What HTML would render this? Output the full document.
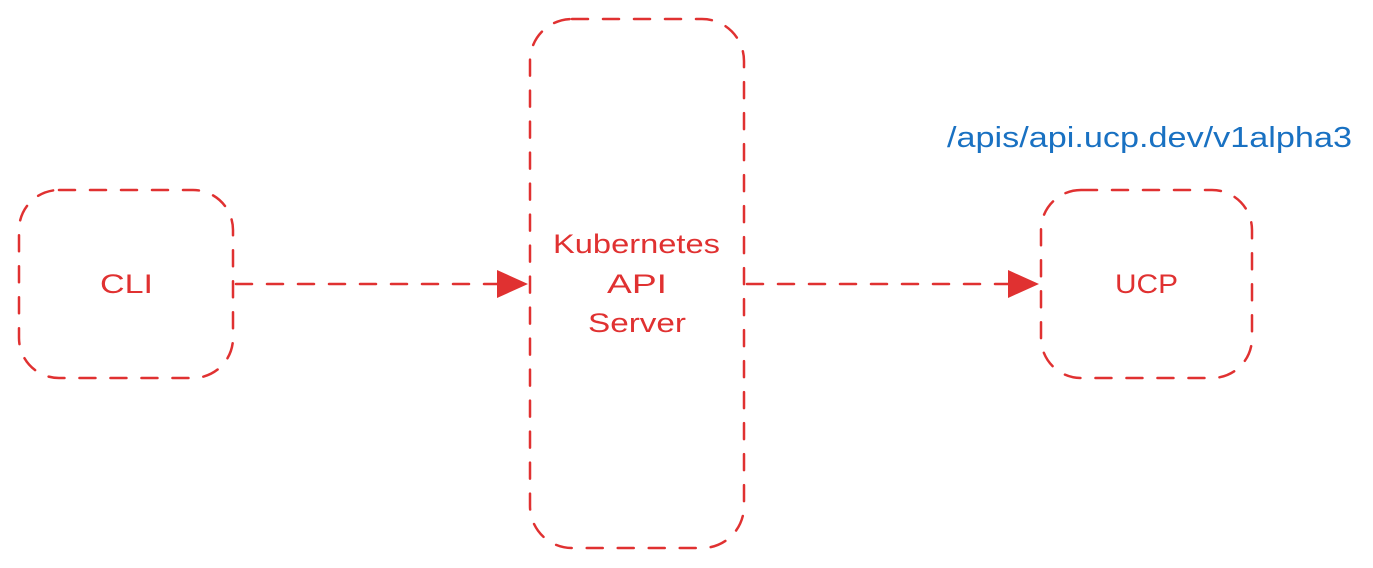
<!DOCTYPE html>
<html><head><style>
html,body{margin:0;padding:0;background:#fff;width:1373px;height:568px;overflow:hidden}
</style></head><body>
<svg width="1373" height="568" viewBox="0 0 1373 568" xmlns="http://www.w3.org/2000/svg">
<g fill="none" stroke="#e03131" stroke-width="2.5" stroke-dasharray="16 15" stroke-linecap="round">
<rect x="19" y="190" width="214" height="188" rx="40"/>
<rect x="530" y="19" width="214" height="529" rx="42"/>
<rect x="1041" y="190" width="211" height="188" rx="40"/>
<line x1="236" y1="284" x2="498" y2="284"/>
<line x1="747" y1="284" x2="1009" y2="284"/>
</g>
<g fill="#e03131">
<polygon points="497,270 528,284 497,298"/>
<polygon points="1008,270 1039,284 1008,298"/>
</g>
<g font-family="'Liberation Sans',sans-serif" font-size="27" fill="#e03131" lengthAdjust="spacingAndGlyphs">
<text x="100" y="293" textLength="53" lengthAdjust="spacingAndGlyphs">CLI</text>
<text x="553" y="253" textLength="167" lengthAdjust="spacingAndGlyphs">Kubernetes</text>
<text x="607" y="293" textLength="60" lengthAdjust="spacingAndGlyphs">API</text>
<text x="588" y="332" textLength="98" lengthAdjust="spacingAndGlyphs">Server</text>
<text x="1115" y="293" textLength="63" lengthAdjust="spacingAndGlyphs">UCP</text>
</g>
<text x="947" y="147" font-family="'Liberation Sans',sans-serif" font-size="29" fill="#1971c2" textLength="405" lengthAdjust="spacingAndGlyphs">/apis/api.ucp.dev/v1alpha3</text>
</svg>
</body></html>
